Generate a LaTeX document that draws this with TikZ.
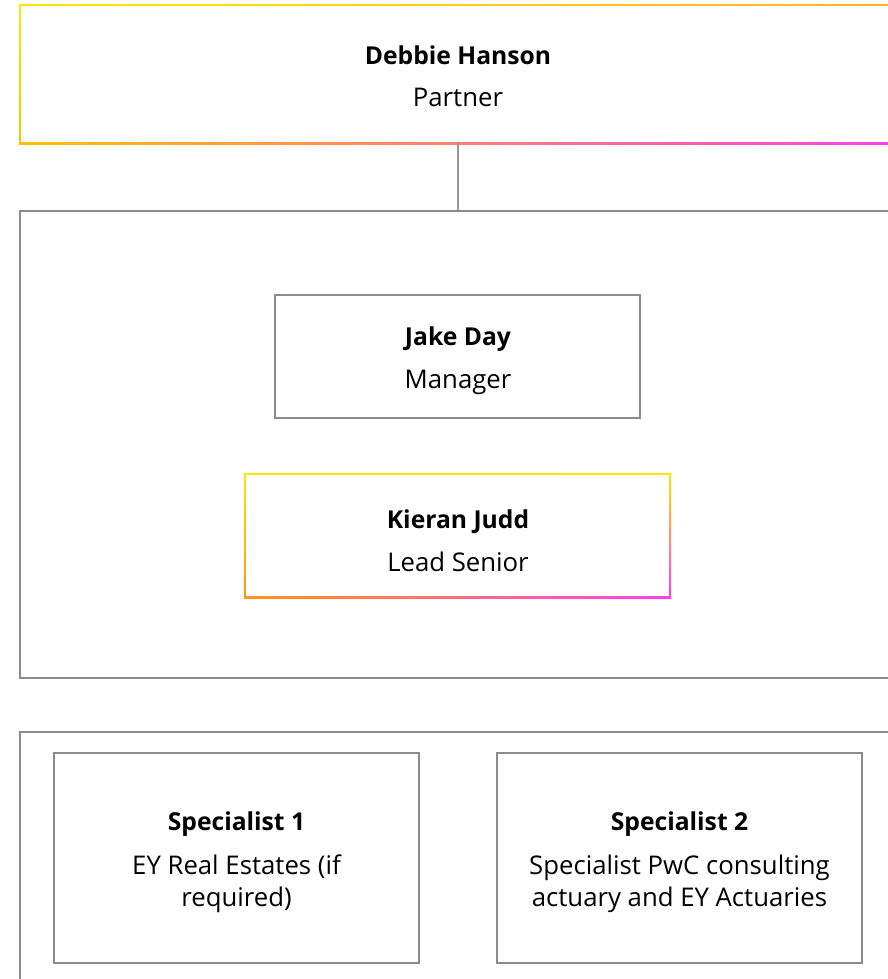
\documentclass[tikz,border=0pt]{standalone}
\usepackage{fontspec}
\setmainfont{Open Sans}
\usetikzlibrary{fit,shadings}
\definecolor{boxgray}{RGB}{138,138,150}
\definecolor{linegray}{RGB}{150,150,158}
\definecolor{eyyellow}{RGB}{255,230,0}
\definecolor{eyamber}{RGB}{255,184,28}
\definecolor{eyorange}{RGB}{255,150,20}
\definecolor{eyorangeB}{RGB}{255,192,0}
\definecolor{eymagenta}{RGB}{255,60,240}
\begin{document}
\begin{tikzpicture}[x=0.75pt,y=-0.75pt,
  graybox/.style={draw=boxgray, line width=1.2pt, fill=white, rectangle, inner sep=0pt},
  whitebox/.style={fill=white, rectangle, inner sep=0pt},
  titletext/.style={anchor=base, font=\bfseries\fontsize{18.5}{20}\selectfont},
  subtext/.style={anchor=base, align=center, font=\fontsize{19.3}{24}\selectfont},
  conn/.style={draw=linegray, line width=1.1pt}]
\useasboundingbox (0,0) rectangle (888,979);
\clip (0,0) rectangle (888,979);

% top box (gradient border)
\shade[upper left=eyyellow, upper right=eyamber, lower left=eyorangeB, lower right=eymagenta]
  (19,4) rectangle (897,144);
\node[whitebox, fit={(21,6) (895,142)}] (debbie) {};
\node[titletext] (debbieT) at (458,64) {Debbie Hanson};
\node[subtext] (debbieS) at (458,106) {Partner};

% middle container
\node[graybox, fit={(20,211) (896,678)}] (team) {};
\draw[conn] (debbie.south) -- (team.north);

% Jake Day
\node[graybox, fit={(275,295) (640,418)}] (jake) {};
\node[titletext] (jakeT) at (458,345) {Jake Day};
\node[subtext] (jakeS) at (458,388) {Manager};

% Kieran Judd (gradient border)
\shade[upper left=eyyellow, upper right=eyyellow, lower left=eyorange, lower right=eymagenta]
  (244,473) rectangle (671,598);
\node[whitebox, fit={(246,475) (669,596)}] (kieran) {};
\node[titletext] (kieranT) at (458,528) {Kieran Judd};
\node[subtext] (kieranS) at (458,571) {Lead Senior};

% bottom container
\node[graybox, fit={(20,732) (896,1000)}] (spec) {};

% Specialist 1
\node[graybox, fit={(54,753) (419,963)}] (sp1) {};
\node[titletext] (sp1T) at (236.5,830) {Specialist 1};
\node[subtext, anchor=north] (sp1S) at (236.5,850) {EY Real Estates (if\\required)};

% Specialist 2
\node[graybox, fit={(497,753) (862,963)}] (sp2) {};
\node[titletext] (sp2T) at (679.5,830) {Specialist 2};
\node[subtext, anchor=north] (sp2S) at (679.5,850) {Specialist PwC consulting\\actuary and EY Actuaries};
\end{tikzpicture}
\end{document}
